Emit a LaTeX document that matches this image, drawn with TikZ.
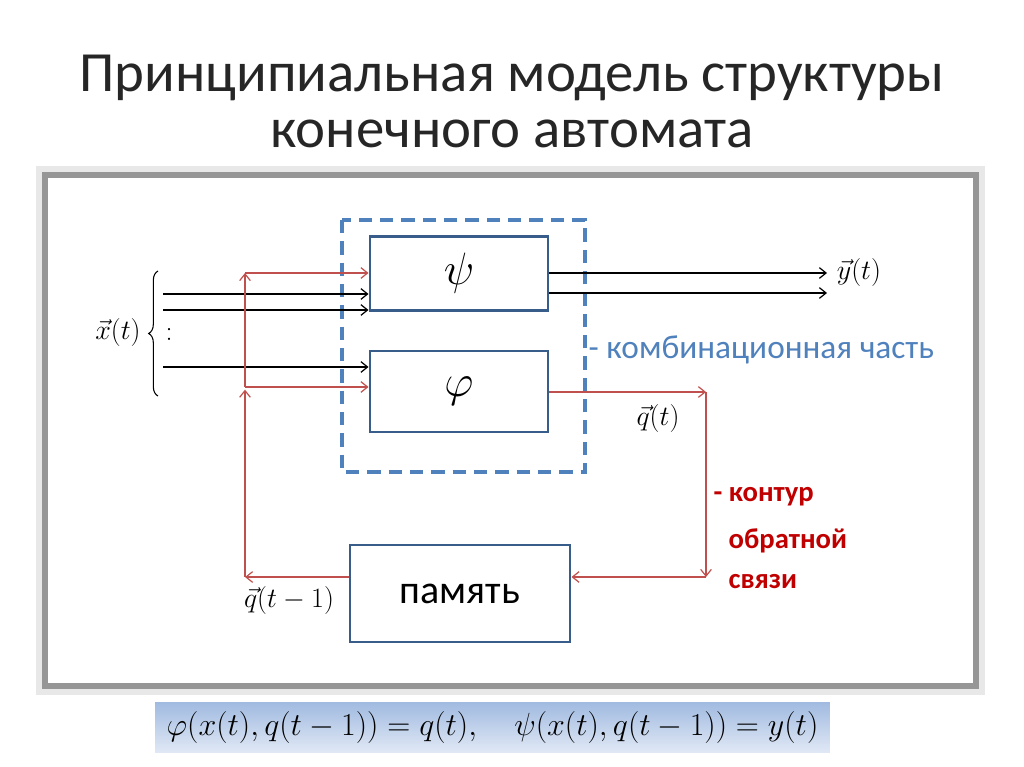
\documentclass[tikz,border=0pt]{standalone}
\usepackage{fix-cm}
\usepackage{fontspec}
\setmainfont{Carlito}
\usepackage{tikz}
\usetikzlibrary{arrows.meta,positioning,calc,decorations.pathreplacing}
\definecolor{boxblue}{RGB}{56,93,138}
\definecolor{combblue}{RGB}{79,129,189}
\definecolor{fbred}{RGB}{192,80,77}
\definecolor{kred}{RGB}{192,0,0}
\definecolor{framegray}{RGB}{150,150,150}
\definecolor{fmtop}{RGB}{160,186,224}
\definecolor{fmbot}{RGB}{224,232,245}
\newcommand{\fsz}[1]{\fontsize{#1pt}{#1pt}\selectfont}
\tikzset{
  blk/.style={draw=boxblue, line width=2.2pt, inner sep=0pt},
  comb/.style={draw=combblue, line width=2.5pt, dash pattern=on 10pt off 6pt},
  barr/.style={-{Straight Barb[length=5pt,width=8pt]}, line width=0.9pt},
  rarr/.style={-{Straight Barb[length=5pt,width=8pt]}, fbred, line width=0.9pt},
  ttl/.style={font=\fsz{42.6}, text=black!85},
  mlab/.style={font=\fsz{21}},
  klab/.style={font=\fsz{21.5}\bfseries, text=kred, anchor=west},
}

\begin{document}
\begin{tikzpicture}[x=0.75pt,y=-0.75pt]
\useasboundingbox (0,0) rectangle (1024,767);
\node[ttl] (t1) at (512,78) {Принципиальная модель структуры};
\node[ttl] (t2) at (512,134) {конечного автомата};
\fill[gray!18] (36,166) rectangle (985,695);
\draw[framegray, line width=4.5pt, fill=white] (45,175) rectangle (976,686);
\draw[comb] (342,220) rectangle (585,472);
\node[blk, minimum width=133.5pt, minimum height=55.5pt] (psi) at (459,273.5) {\fsz{34}$\psi$};
\node[blk, minimum width=133.5pt, minimum height=60.75pt] (phi) at (459,391.5) {\fsz{34}$\varphi$};
\node[blk, minimum width=165pt, minimum height=72.75pt] (mem) at (460,593.5) {\fsz{30}память};
\node[font=\fsz{25}, text=combblue, anchor=west] (comb) at (584,350) {- комбинационная часть};
\node[klab] (k1) at (709,497) {- контур};
\node[klab] (k2) at (724,541) {обратной};
\node[klab] (k3) at (724,582) {связи};
\node[mlab] (xt) at (118,332) {$\vec{x}(t)$};
\node[mlab] (dots) at (169,334) {$:$};
\node[mlab] (yt) at (859,272) {$\vec{y}(t)$};
\node[mlab] (qt) at (658,418) {$\vec{q}(t)$};
\node[mlab] (qt1) at (289,600) {$\vec{q}(t-1)$};
\draw[decorate, decoration={brace, amplitude=7pt}, line width=0.8pt] (158,396) -- (158,271);
\coordinate (x1) at (163,294);
\coordinate (x2) at (163,310);
\coordinate (x3) at (163,367);
\coordinate (y1) at (827,273);
\coordinate (y2) at (827,293);
\draw[barr] (x1) -- (psi.west |- x1);
\draw[barr] (x2) -- (psi.west |- x2);
\draw[barr] (x3) -- (phi.west |- x3);
\draw[barr] (psi.east |- y1) -- (y1);
\draw[barr] (psi.east |- y2) -- (y2);
\coordinate (qr) at (706,392);
\coordinate (qd) at (706,577);
\coordinate (ql) at (245,577);
\coordinate (jl) at (245,387);
\coordinate (jt) at (245,273);
\draw[rarr] (phi.east |- qr) -- (qr);
\draw[rarr] (qr) -- (qd);
\draw[rarr] (qd) -- (mem.east |- qd);
\draw[rarr] (mem.west |- ql) -- (ql);
\draw[rarr] (ql) -- ([yshift=-2pt]jl);
\draw[rarr] (jl) -- (jt);
\draw[rarr] (jt) -- (psi.west |- jt);
\draw[rarr] (jl) -- (phi.west |- jl);
\node[minimum width=506pt, minimum height=37.5pt, top color=fmtop, bottom color=fmbot, inner sep=0pt] (form) at (492.5,727) {\fsz{24}$\varphi(x(t),q(t-1))=q(t),\quad \psi(x(t),q(t-1))=y(t)$};
\end{tikzpicture}
\end{document}
